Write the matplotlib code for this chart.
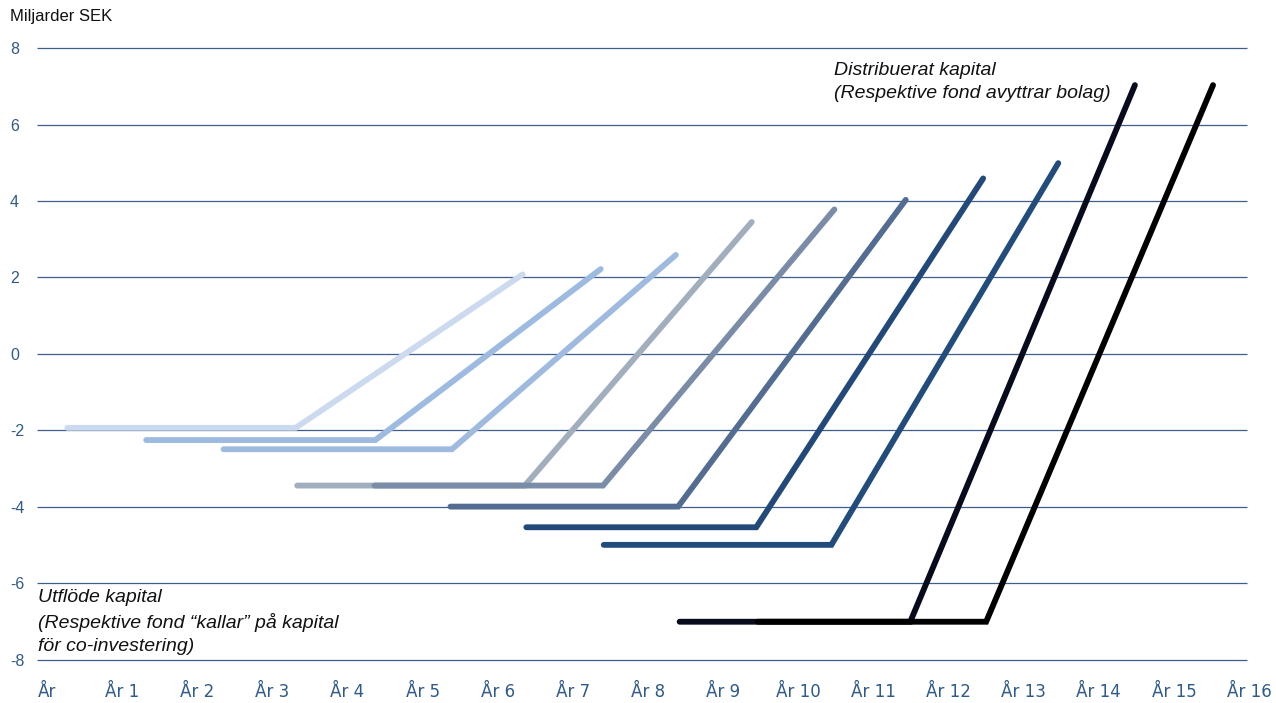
import matplotlib.pyplot as plt

# each fund: start year, year the calls stop, year of last exit, capital out (flat), capital back (end)
start_year = [0.27, 1.32, 2.35, 3.33, 4.36, 5.37, 6.38, 7.41, 8.42, 9.46]
corner_year = [3.31, 4.37, 5.39, 6.36, 7.40, 8.40, 9.44, 10.44, 11.49, 12.50]
end_year = [6.33, 7.37, 8.37, 9.38, 10.48, 11.43, 12.46, 13.46, 14.48, 15.52]
outflow = [-1.93, -2.25, -2.49, -3.44, -3.44, -3.99, -4.53, -4.99, -7.0, -7.0]
distributed = [2.08, 2.22, 2.59, 3.45, 3.78, 4.03, 4.59, 4.99, 7.03, 7.03]
colors = ['#cbdaee', '#9dbae0', '#9fbadf', '#a1aebe', '#7a8ca7',
          '#536d92', '#22497a', '#214c7c', '#070b1c', '#000000']

y_ticks = [8, 6, 4, 2, 0, -2, -4, -6, -8]
x_labels = ['År'] + ['År ' + str(i) for i in range(1, 17)]

blue = '#2f5a8a'

fig = plt.figure(figsize=(12.76, 7.03), dpi=100)
ax = fig.add_axes([37/1276, 0.0503, 0.9676, 0.8923])
ax.set_xlim(-0.133, 16.3)
ax.set_ylim(-8.2, 8.2)

# grid lines, drawn by hand so they stop before År 16
ax.hlines(y_ticks, -0.133, 15.97, color='#3d5f8c', lw=0.9, zorder=1)

for i in range(len(start_year)):
    xs = [start_year[i], corner_year[i], end_year[i]]
    ys = [outflow[i], outflow[i], distributed[i]]
    ax.plot(xs, ys, color=colors[i], lw=4.2, solid_capstyle='round',
            solid_joinstyle='miter', zorder=2 + i)

for s in ax.spines.values():
    s.set_visible(False)

ax.set_yticks(y_ticks)
ax.set_yticklabels([str(v) for v in y_ticks], color=blue, fontsize=11.5,
                   fontfamily='Liberation Sans', ha='left')
ax.tick_params(axis='y', length=0, pad=19.5)

ax.set_xticks(range(17))
ax.set_xticklabels(x_labels, color=blue, fontsize=12, fontfamily='DejaVu Sans')
ax.tick_params(axis='x', length=0, pad=11)

fig.text(10/1276, 1 - 17/703, 'Miljarder SEK', fontsize=12, fontfamily='Liberation Sans',
         va='center', ha='left', color='#111111')

ax.text(834, 703 - 62, 'Distribuerat kapital\n(Respektive fond avyttrar bolag)',
        transform=None, fontsize=14, fontstyle='italic', fontfamily='Liberation Sans',
        va='top', ha='left', color='#111111', linespacing=1.45)
ax.text(38, 703 - 589, 'Utflöde kapital\n(Respektive fond \u201ckallar\u201d på kapital\nför co-investering)',
        transform=None, fontsize=14, fontstyle='italic', fontfamily='Liberation Sans',
        va='top', ha='left', color='#111111', linespacing=1.45)

fig.savefig('out.png', dpi=100)
